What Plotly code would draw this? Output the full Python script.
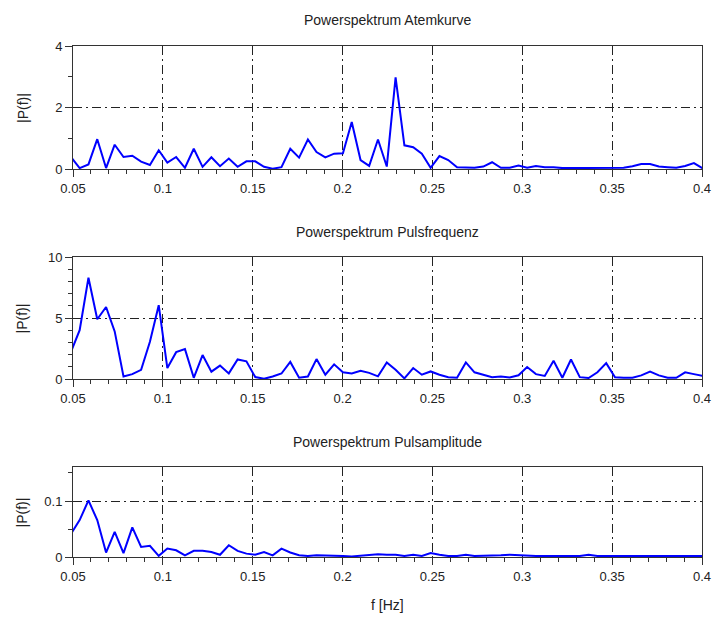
import plotly.graph_objects as go

# Frequency bins (Hz)
freq = [0.0488, 0.0537, 0.0586, 0.0635, 0.0684, 0.0732, 0.0781, 0.0830, 0.0879, 0.0928,
        0.0977, 0.1025, 0.1074, 0.1123, 0.1172, 0.1221, 0.1270, 0.1318, 0.1367, 0.1416,
        0.1465, 0.1514, 0.1563, 0.1611, 0.1660, 0.1709, 0.1758, 0.1807, 0.1855, 0.1904,
        0.1953, 0.2002, 0.2051, 0.2100, 0.2148, 0.2197, 0.2246, 0.2295, 0.2344, 0.2393,
        0.2441, 0.2490, 0.2539, 0.2588, 0.2637, 0.2686, 0.2734, 0.2783, 0.2832, 0.2881,
        0.2930, 0.2979, 0.3027, 0.3076, 0.3125, 0.3174, 0.3223, 0.3271, 0.3320, 0.3369,
        0.3418, 0.3467, 0.3516, 0.3564, 0.3613, 0.3662, 0.3711, 0.3760, 0.3809, 0.3857,
        0.3906, 0.3955, 0.4004]

atem = [0.39, 0.03, 0.15, 0.97, 0.03, 0.79, 0.39, 0.43, 0.24, 0.13,
        0.61, 0.21, 0.39, 0.04, 0.66, 0.07, 0.38, 0.09, 0.34, 0.07,
        0.25, 0.25, 0.07, 0.01, 0.06, 0.66, 0.37, 0.96, 0.55, 0.38,
        0.50, 0.51, 1.53, 0.29, 0.10, 0.96, 0.08, 2.98, 0.77, 0.71,
        0.50, 0.04, 0.42, 0.29, 0.06, 0.04, 0.04, 0.08, 0.22, 0.04,
        0.04, 0.11, 0.04, 0.10, 0.06, 0.06, 0.03, 0.03, 0.03, 0.03,
        0.03, 0.03, 0.03, 0.04, 0.09, 0.16, 0.16, 0.08, 0.06, 0.04,
        0.10, 0.19, 0.02]

puls = [2.2, 4.0, 8.3, 4.9, 5.9, 3.9, 0.2, 0.4, 0.75, 3.05,
        6.05, 0.9, 2.2, 2.45, 0.1, 1.96, 0.6, 1.1, 0.46, 1.6,
        1.45, 0.16, 0.02, 0.2, 0.45, 1.4, 0.1, 0.2, 1.63, 0.35,
        1.2, 0.55, 0.45, 0.68, 0.5, 0.22, 1.36, 0.75, 0.05, 0.9,
        0.35, 0.62, 0.35, 0.15, 0.1, 1.36, 0.55, 0.35, 0.15, 0.2,
        0.12, 0.3, 0.98, 0.4, 0.25, 1.5, 0.1, 1.6, 0.15, 0.08,
        0.55, 1.3, 0.15, 0.1, 0.1, 0.3, 0.6, 0.3, 0.1, 0.1,
        0.55, 0.4, 0.25]

ampl = [0.041, 0.066, 0.101, 0.066, 0.008, 0.045, 0.007, 0.053, 0.018, 0.020,
        0.002, 0.015, 0.012, 0.003, 0.011, 0.011, 0.009, 0.004, 0.021, 0.011,
        0.006, 0.004, 0.009, 0.003, 0.015, 0.008, 0.003, 0.002, 0.003, 0.003,
        0.002, 0.002, 0.001, 0.002, 0.003, 0.005, 0.004, 0.004, 0.002, 0.004,
        0.002, 0.007, 0.004, 0.002, 0.002, 0.004, 0.002, 0.002, 0.002, 0.003,
        0.004, 0.003, 0.002, 0.002, 0.002, 0.002, 0.002, 0.002, 0.002, 0.004,
        0.002, 0.002, 0.002, 0.002, 0.002, 0.002, 0.002, 0.002, 0.002, 0.002,
        0.002, 0.002, 0.002]

titles = ["Powerspektrum Atemkurve", "Powerspektrum Pulsfrequenz", "Powerspektrum Pulsamplitude"]
series = [atem, puls, ampl]
x_ticks = [0.05, 0.1, 0.15, 0.2, 0.25, 0.3, 0.35, 0.4]
x_labels = ["0.05", "0.1", "0.15", "0.2", "0.25", "0.3", "0.35", "0.4"]
y_ranges = [[0, 4], [0, 10], [0, 0.1607]]
y_ticks = [[0, 2, 4], [0, 5, 10], [0, 0.1]]
y_labels = [["0", "2", "4"], ["0", "5", "10"], ["0", "0.1"]]
y_minor = [1, 1, 0.05]
x_title = "f [Hz]"
y_title = "|P(f)|"

# Layout geometry (pixels)
W, H = 723, 625
L, R, T, B = 73, 15, 46, 68
ph = H - T - B
def py2paper(py):
    return (H - B - py) / ph

boxes = [(46, 169), (257, 379), (467, 557)]
title_py = [20, 232, 442]

FONT = "Liberation Sans, Arial, sans-serif"
TXT = "#222222"
GRID_DASH = "9px,4px,2px,4px"

fig = go.Figure()
layout = dict(width=W, height=H, margin=dict(l=L, r=R, t=T, b=B),
              paper_bgcolor="white", plot_bgcolor="white", showlegend=False,
              font=dict(family=FONT, size=13, color=TXT))
annotations = []
for i, s in enumerate(series):
    n = "" if i == 0 else str(i + 1)
    fig.add_trace(go.Scatter(x=freq, y=s, mode="lines",
                             line=dict(color="#0000ff", width=2),
                             xaxis="x" + n, yaxis="y" + n, hoverinfo="x+y"))
    top, bot = boxes[i]
    layout["xaxis" + n] = dict(
        domain=[0, 1], anchor="y" + n, range=[0.05, 0.4],
        tickvals=x_ticks, ticktext=x_labels, ticks="outside", ticklen=7,
        tickcolor="#333", tickwidth=1,
        minor=dict(dtick=0.01, tick0=0.05, ticks="outside", ticklen=4,
                   tickcolor="#333", showgrid=False),
        showline=True, linecolor="#333", linewidth=1, mirror=True,
        showgrid=True, gridcolor="#222", gridwidth=1, griddash=GRID_DASH,
        zeroline=False, tickfont=dict(size=13, color=TXT))
    layout["yaxis" + n] = dict(
        domain=[py2paper(bot), py2paper(top)], anchor="x" + n, range=y_ranges[i],
        tickvals=y_ticks[i], ticktext=y_labels[i], ticks="outside", ticklen=7,
        tickcolor="#333", tickwidth=1,
        minor=dict(dtick=y_minor[i], tick0=0, ticks="outside", ticklen=4,
                   tickcolor="#333", showgrid=False),
        showline=True, linecolor="#333", linewidth=1, mirror=True,
        showgrid=True, gridcolor="#222", gridwidth=1, griddash=GRID_DASH,
        zeroline=False, tickfont=dict(size=13, color=TXT))
    annotations.append(dict(text=titles[i], xref="paper", yref="paper",
                            x=0.5, y=py2paper(title_py[i]), xanchor="center",
                            yanchor="middle", showarrow=False,
                            font=dict(size=14, color=TXT)))
    annotations.append(dict(text=y_title, xref="paper", yref="paper",
                            x=(22 - L) / (W - L - R), y=py2paper((top + bot) / 2),
                            xanchor="center", yanchor="middle", textangle=-90,
                            showarrow=False, font=dict(size=14, color=TXT)))

annotations.append(dict(text=x_title, xref="paper", yref="paper",
                        x=0.5, y=py2paper(605), xanchor="center", yanchor="middle",
                        showarrow=False, font=dict(size=14, color=TXT)))
layout["annotations"] = annotations
fig.update_layout(**layout)
fig.write_html("out.html")
